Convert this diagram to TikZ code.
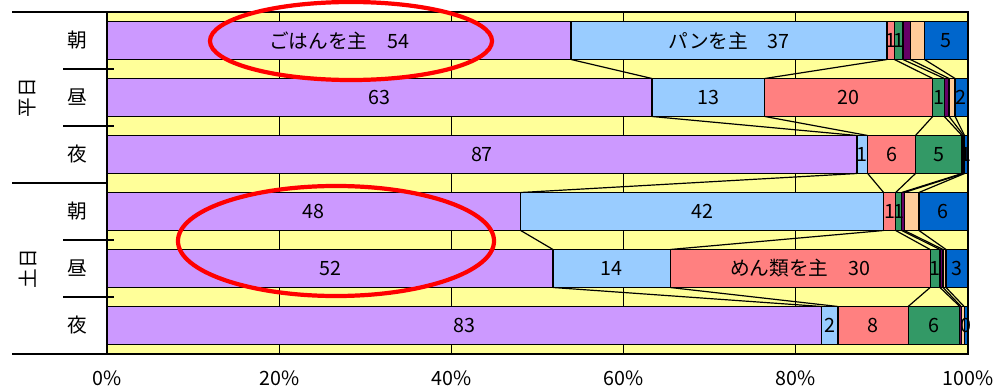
\documentclass[tikz,border=0pt]{standalone}
\usepackage{fontspec}
\setmainfont{Noto Sans CJK JP}
\definecolor{plotbg}{HTML}{FFFF99}
\definecolor{s1}{HTML}{CC99FF}
\definecolor{s2}{HTML}{99CCFF}
\definecolor{s3}{HTML}{FF8080}
\definecolor{s4}{HTML}{339966}
\definecolor{s5}{HTML}{660066}
\definecolor{s6}{HTML}{FFCC99}
\definecolor{s7}{HTML}{0066CC}
\definecolor{s8}{HTML}{000080}
\tikzset{
  seg/.style={draw=black, line width=0.85pt},
  lab/.style={font=\fontsize{14}{16}\selectfont, inner sep=0pt},
  ring/.style={draw=red, line width=3pt},
}

\begin{document}
\begin{tikzpicture}[x=0.025cm, y=-0.025cm]
    \useasboundingbox (0,0) rectangle (996,388);
    \fill[plotbg] (107,12) rectangle (968,354);
    \foreach \g in {1,...,4}
        \draw[seg] ({107+172.2*\g},12) -- ({107+172.2*\g},354);

    % stacked bars, cumulative ends in percent
    \foreach \r/\ends in {
        1/{53.9,90.6,91.45,92.45,93.3,94.95,99.9,100},
        2/{63.3,76.4,95.9,97.25,97.8,98.5,99.9,100},
        3/{87.1,88.35,93.9,99.3,99.5,99.6,99.9,100},
        4/{48.05,90.2,91.6,92.3,92.6,94.3,99.9,100},
        5/{51.8,65.4,95.6,96.75,97.1,97.45,99.9,100},
        6/{83.0,84.9,93.05,99.05,99.2,99.55,99.9,100}} {
        \pgfmathsetmacro\yt{21.5+57*(\r-1)}
        \pgfmathsetmacro\yb{\yt+38}
        \foreach \e [count=\k, remember=\e as \s (initially 0)] in \ends {
            \pgfmathsetmacro\xs{107+8.61*\s}
            \pgfmathsetmacro\xe{107+8.61*\e}
            \draw[seg, fill=s\k] (\xs,\yt) rectangle (\xe,\yb);
            \coordinate (t-\r-\k) at (\xe,\yt);
            \coordinate (b-\r-\k) at (\xe,\yb);
            \coordinate (m-\r-\k) at ({(\xs+\xe)/2},{\yt+19});
        }
    }

    % series lines
    \foreach \r in {1,...,5} {
        \pgfmathtruncatemacro\n{\r+1}
        \foreach \k in {1,...,7}
            \draw[seg] (b-\r-\k) -- (t-\n-\k);
    }

    \draw[line width=1pt] (107,12) rectangle (968,354);
    \draw[line width=1.6pt] (107,12) -- (107,354);
    \foreach \y in {12,183,354}
        \draw[seg] (12,\y) -- (107,\y);
    \foreach \y in {69,126,240,297}
        \draw[seg] (63,\y) -- (114,\y);

    \foreach \r/\t in {1/朝,2/昼,3/夜,4/朝,5/昼,6/夜}
        \node[lab] (row\r) at (77,{40.5+57*(\r-1)}) {\t};
    \node[lab, rotate=90] (wkday) at (28,97.5) {平日};
    \node[lab, rotate=90] (wkend) at (28,268.5) {土日};

    \foreach \g in {0,...,5} {
        \pgfmathtruncatemacro\pct{20*\g}
        \node[lab] (ax\g) at ({107+172.2*\g},378) {\pct\%};
    }

    % value labels
    \foreach \r/\k/\t in {1/1/ごはんを主　54, 1/2/パンを主　37, 1/3/1, 1/4/1, 1/7/5,
        2/1/63, 2/2/13, 2/3/20, 2/4/1, 2/7/2,
        3/1/87, 3/2/1, 3/3/6, 3/4/5, 3/7/1,
        4/1/48, 4/2/42, 4/3/1, 4/4/1, 4/7/6,
        5/1/52, 5/2/14, 5/3/めん類を主　30, 5/4/1, 5/7/3,
        6/1/83, 6/2/2, 6/3/8, 6/4/6, 6/7/0}
        \node[lab] (v-\r-\k) at (m-\r-\k) {\t};

    \draw[ring] (351,41) ellipse [x radius=3.525cm, y radius=0.975cm];
    \draw[ring] (336,241) ellipse [x radius=3.95cm, y radius=1.375cm];
\end{tikzpicture}
\end{document}
